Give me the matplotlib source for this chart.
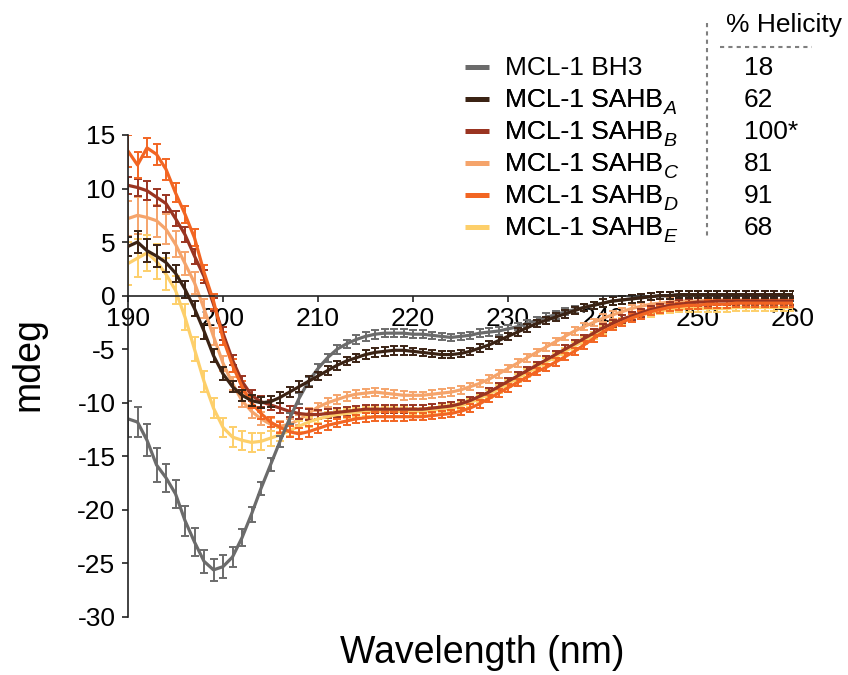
import numpy as np
import matplotlib
matplotlib.use("Agg")
import matplotlib.pyplot as plt
from matplotlib.lines import Line2D

plt.rcParams.update({
    "font.family": "Liberation Sans",
    "axes.unicode_minus": False,
})

# ---- CD spectra, 190-260 nm in 1 nm steps ----
wavelength = np.arange(190, 261)

bh3 = [-11.5, -11.8, -13.5, -15.8, -17.0, -18.5, -21.0, -23.0, -24.8, -25.6,
       -25.3, -24.4, -22.6, -20.4, -18.0, -15.8, -13.6, -11.5, -9.6, -8.0,
       -6.8, -5.8, -5.0, -4.5, -4.1, -3.8, -3.6, -3.5, -3.5, -3.5,
       -3.6, -3.6, -3.7, -3.8, -3.9, -3.8, -3.7, -3.5, -3.4, -3.3,
       -3.1, -2.9, -2.6, -2.3, -2.0, -1.8, -1.5, -1.3, -1.1, -0.9,
       -0.7, -0.5, -0.4, -0.3, -0.2, -0.1, 0.0, 0.0, 0.1, 0.1,
       0.1, 0.1, 0.1, 0.1, 0.1, 0.1, 0.1, 0.1, 0.1, 0.1,
       0.1]
sahb_a = [4.6, 5.0, 4.2, 3.7, 3.1, 2.1, 0.6, -1.2, -3.3, -5.6,
          -7.3, -8.5, -9.3, -9.8, -10.0, -9.9, -9.5, -9.0, -8.5, -8.0,
          -7.5, -7.0, -6.5, -6.1, -5.8, -5.5, -5.3, -5.2, -5.1, -5.1,
          -5.2, -5.3, -5.4, -5.5, -5.5, -5.4, -5.2, -4.9, -4.6, -4.2,
          -3.8, -3.4, -3.0, -2.6, -2.3, -2.0, -1.7, -1.4, -1.1, -0.9,
          -0.7, -0.5, -0.4, -0.3, -0.2, -0.1, 0.0, 0.0, 0.1, 0.1,
          0.1, 0.1, 0.1, 0.1, 0.1, 0.1, 0.1, 0.1, 0.1, 0.1,
          0.1]
sahb_b = [10.3, 10.1, 9.8, 9.2, 8.6, 7.2, 5.7, 3.7, 1.8, -0.8,
          -3.5, -6.0, -8.0, -9.3, -9.9, -10.2, -10.5, -10.8, -11.0, -11.1,
          -11.1, -11.0, -10.9, -10.8, -10.7, -10.6, -10.6, -10.6, -10.6, -10.6,
          -10.6, -10.6, -10.5, -10.4, -10.3, -10.1, -9.8, -9.4, -9.0, -8.5,
          -8.0, -7.5, -7.0, -6.5, -6.0, -5.5, -5.0, -4.5, -4.0, -3.5,
          -3.0, -2.6, -2.2, -1.9, -1.6, -1.3, -1.1, -0.9, -0.8, -0.7,
          -0.6, -0.6, -0.5, -0.5, -0.5, -0.5, -0.5, -0.5, -0.5, -0.5,
          -0.5]
sahb_c = [7.2, 7.5, 7.3, 7.0, 6.2, 4.8, 3.0, 1.2, -1.2, -3.8,
          -6.3, -8.2, -9.8, -10.8, -11.5, -12.0, -12.2, -12.0, -11.6, -11.0,
          -10.4, -10.0, -9.7, -9.4, -9.2, -9.1, -9.0, -9.1, -9.2, -9.3,
          -9.3, -9.3, -9.2, -9.1, -9.0, -8.8, -8.5, -8.2, -7.8, -7.3,
          -6.8, -6.3, -5.8, -5.3, -4.8, -4.3, -3.8, -3.3, -2.9, -2.5,
          -2.1, -1.8, -1.5, -1.2, -1.0, -0.8, -0.7, -0.6, -0.5, -0.5,
          -0.5, -0.4, -0.4, -0.4, -0.4, -0.4, -0.4, -0.4, -0.4, -0.4,
          -0.4]
sahb_d = [13.5, 12.2, 13.8, 13.2, 11.8, 9.6, 7.6, 5.4, 2.2, -0.5,
          -4.0, -6.5, -8.5, -10.0, -11.0, -11.8, -12.3, -12.7, -12.9, -12.7,
          -12.4, -12.1, -11.9, -11.7, -11.5, -11.4, -11.3, -11.3, -11.3, -11.3,
          -11.3, -11.3, -11.2, -11.1, -11.0, -10.8, -10.5, -10.1, -9.6, -9.1,
          -8.6, -8.1, -7.6, -7.1, -6.7, -6.2, -5.7, -5.2, -4.6, -4.0,
          -3.4, -2.9, -2.5, -2.1, -1.8, -1.5, -1.3, -1.1, -1.0, -0.9,
          -0.9, -0.8, -0.8, -0.8, -0.7, -0.7, -0.7, -0.7, -0.7, -0.7,
          -0.7]
sahb_e = [3.0, 3.5, 4.0, 3.2, 2.0, 0.5, -2.0, -5.0, -8.0, -10.5,
          -12.3, -13.2, -13.5, -13.7, -13.6, -13.3, -13.0, -12.6, -12.2, -11.8,
          -11.5, -11.3, -11.1, -11.0, -10.9, -10.8, -10.8, -10.8, -10.8, -10.8,
          -10.8, -10.8, -10.7, -10.6, -10.5, -10.3, -10.0, -9.6, -9.2, -8.7,
          -8.2, -7.7, -7.2, -6.7, -6.2, -5.7, -5.2, -4.7, -4.2, -3.7,
          -3.2, -2.8, -2.4, -2.1, -1.8, -1.6, -1.4, -1.3, -1.2, -1.2,
          -1.2, -1.2, -1.2, -1.2, -1.1, -1.1, -1.1, -1.1, -1.1, -1.1,
          -1.1]

# ---- standard deviations (error bars) ----
err_bh3 = [1.7, 1.4, 1.5, 1.6, 1.3, 1.3, 1.4, 1.3, 1.1, 1.0,
           1.1, 0.9, 0.8, 0.7, 0.6, 0.6, 0.5, 0.5, 0.5, 0.4,
           0.4, 0.4, 0.4, 0.4, 0.4, 0.4, 0.4, 0.4, 0.4, 0.4,
           0.35, 0.35, 0.35, 0.35, 0.35, 0.35, 0.35, 0.35, 0.35, 0.35,
           0.35, 0.35, 0.35, 0.35, 0.35, 0.35, 0.35, 0.35, 0.35, 0.35,
           0.35, 0.35, 0.35, 0.35, 0.35, 0.35, 0.35, 0.35, 0.35, 0.35,
           0.35, 0.35, 0.35, 0.35, 0.35, 0.35, 0.35, 0.35, 0.35, 0.35,
           0.35]
err_a = [0.9, 1.0, 1.1, 1.0, 0.9, 0.8, 0.8, 0.7, 0.7, 0.6,
         0.6, 0.5, 0.5, 0.5, 0.5, 0.5, 0.5, 0.5, 0.5, 0.5,
         0.4, 0.4, 0.4, 0.4, 0.4, 0.4, 0.4, 0.4, 0.4, 0.4,
         0.35, 0.35, 0.35, 0.35, 0.35, 0.35, 0.35, 0.35, 0.35, 0.35,
         0.35, 0.35, 0.35, 0.35, 0.35, 0.35, 0.35, 0.35, 0.35, 0.35,
         0.35, 0.35, 0.35, 0.35, 0.35, 0.35, 0.35, 0.35, 0.35, 0.35,
         0.35, 0.35, 0.35, 0.35, 0.35, 0.35, 0.35, 0.35, 0.35, 0.35,
         0.35]
err_b = [0.8, 0.8, 0.9, 0.8, 0.8, 0.7, 0.7, 0.7, 0.6, 0.6,
         0.6, 0.5, 0.5, 0.5, 0.5, 0.5, 0.5, 0.5, 0.5, 0.5,
         0.4, 0.4, 0.4, 0.4, 0.4, 0.4, 0.4, 0.4, 0.4, 0.4,
         0.35, 0.35, 0.35, 0.35, 0.35, 0.35, 0.35, 0.35, 0.35, 0.35,
         0.35, 0.35, 0.35, 0.35, 0.35, 0.35, 0.35, 0.35, 0.35, 0.35,
         0.35, 0.35, 0.35, 0.35, 0.35, 0.35, 0.35, 0.35, 0.35, 0.35,
         0.35, 0.35, 0.35, 0.35, 0.35, 0.35, 0.35, 0.35, 0.35, 0.35,
         0.35]
err_c = [1.6, 1.7, 1.6, 1.5, 1.4, 1.2, 1.1, 1.0, 0.9, 0.8,
         0.7, 0.6, 0.6, 0.6, 0.6, 0.6, 0.5, 0.5, 0.5, 0.5,
         0.4, 0.4, 0.4, 0.4, 0.4, 0.4, 0.4, 0.4, 0.4, 0.4,
         0.35, 0.35, 0.35, 0.35, 0.35, 0.35, 0.35, 0.35, 0.35, 0.35,
         0.35, 0.35, 0.35, 0.35, 0.35, 0.35, 0.35, 0.35, 0.35, 0.35,
         0.35, 0.35, 0.35, 0.35, 0.35, 0.35, 0.35, 0.35, 0.35, 0.35,
         0.35, 0.35, 0.35, 0.35, 0.35, 0.35, 0.35, 0.35, 0.35, 0.35,
         0.35]
err_d = [1.5, 1.2, 0.9, 1.0, 1.0, 0.9, 0.8, 0.8, 0.7, 0.7,
         0.6, 0.6, 0.5, 0.5, 0.5, 0.5, 0.5, 0.5, 0.5, 0.5,
         0.4, 0.4, 0.4, 0.4, 0.4, 0.4, 0.4, 0.4, 0.4, 0.4,
         0.35, 0.35, 0.35, 0.35, 0.35, 0.35, 0.35, 0.35, 0.35, 0.35,
         0.35, 0.35, 0.35, 0.35, 0.35, 0.35, 0.35, 0.35, 0.35, 0.35,
         0.35, 0.35, 0.35, 0.35, 0.35, 0.35, 0.35, 0.35, 0.35, 0.35,
         0.35, 0.35, 0.35, 0.35, 0.35, 0.35, 0.35, 0.35, 0.35, 0.35,
         0.35]
err_e = [2.0, 1.8, 1.7, 1.6, 1.5, 1.3, 1.2, 1.1, 1.0, 0.9,
         0.9, 0.9, 0.9, 0.9, 0.8, 0.7, 0.6, 0.5, 0.5, 0.5,
         0.4, 0.4, 0.4, 0.4, 0.4, 0.4, 0.4, 0.4, 0.4, 0.4,
         0.35, 0.35, 0.35, 0.35, 0.35, 0.35, 0.35, 0.35, 0.35, 0.35,
         0.35, 0.35, 0.35, 0.35, 0.35, 0.35, 0.35, 0.35, 0.35, 0.35,
         0.35, 0.35, 0.35, 0.35, 0.35, 0.35, 0.35, 0.35, 0.35, 0.35,
         0.35, 0.35, 0.35, 0.35, 0.35, 0.35, 0.35, 0.35, 0.35, 0.35,
         0.35]

names = ["MCL-1 BH3", "MCL-1 SAHB", "MCL-1 SAHB",
         "MCL-1 SAHB", "MCL-1 SAHB", "MCL-1 SAHB"]
subscripts = ["", "A", "B", "C", "D", "E"]
helicity = ["18", "62", "100*", "81", "91", "68"]
colors = ["#6b6b6b", "#3b2314", "#9a3421", "#f5a46b", "#f26522", "#fdcf6a"]
series = [bh3, sahb_a, sahb_b, sahb_c, sahb_d, sahb_e]
errors = [err_bh3, err_a, err_b, err_c, err_d, err_e]
zorders = [2.4, 2.5, 2.2, 2.0, 2.3, 2.1]

W, H = 848, 675
fig = plt.figure(figsize=(W / 100, H / 100), dpi=100)
ax = fig.add_axes([128 / W, 58 / H, 665 / W, 482 / H])

for y, e, c, z in zip(series, errors, colors, zorders):
    ax.errorbar(wavelength, y, yerr=e, color=c, lw=2.3, elinewidth=1.4,
                capsize=3.0, capthick=1.4, zorder=z)

ax.set_xlim(190, 260)
ax.set_ylim(-30, 15)
ax.set_xticks(range(190, 261, 10))
ax.set_yticks(range(-30, 16, 5))
ax.spines["bottom"].set_position(("data", 0))
for s in ("top", "right"):
    ax.spines[s].set_visible(False)
for s in ("left", "bottom"):
    ax.spines[s].set_linewidth(1.2)
    ax.spines[s].set_color("#222222")
ax.tick_params(axis="both", labelsize=19, length=4, width=1.2,
               color="#222222")
ax.tick_params(axis="x", pad=4)
ax.tick_params(axis="y", pad=5)

fig.text(482 / W, 1 - 663 / H, "Wavelength (nm)", ha="center",
         va="baseline", fontsize=27)
fig.text(28 / W, 1 - 364 / H, "mdeg", rotation=90, ha="center",
         va="center", fontsize=27)

# ---- legend with helicity column ----
for i, (nm, sub, c, hel) in enumerate(zip(names, subscripts, colors, helicity)):
    yb = 75 + 32 * i
    fig.add_artist(Line2D([465 / W, 489 / W], [1 - (yb - 8.5) / H] * 2,
                          color=c, lw=3.6, solid_capstyle="butt"))
    t = fig.text(505 / W, 1 - yb / H, nm, fontsize=19, va="baseline")
    if sub:
        fig.add_artist(t)
        ax.annotate(sub, xy=(1, 0), xycoords=t, xytext=(0.5, -1.5),
                    textcoords="offset points", fontsize=14,
                    style="italic", va="baseline", ha="left")
    fig.text(744 / W, 1 - yb / H, hel, fontsize=19, va="baseline")

fig.text(726 / W, 1 - 32 / H, "% Helicity", fontsize=19, va="baseline")
fig.add_artist(Line2D([720 / W, 812 / W], [1 - 47 / H] * 2, color="#7f7f7f",
                      lw=1.5, dashes=(2, 2)))
fig.add_artist(Line2D([707 / W, 707 / W], [1 - 23 / H, 1 - 238 / H],
                      color="#7f7f7f", lw=1.5, dashes=(2, 2)))

fig.savefig("out.png", dpi=100, facecolor="white")
